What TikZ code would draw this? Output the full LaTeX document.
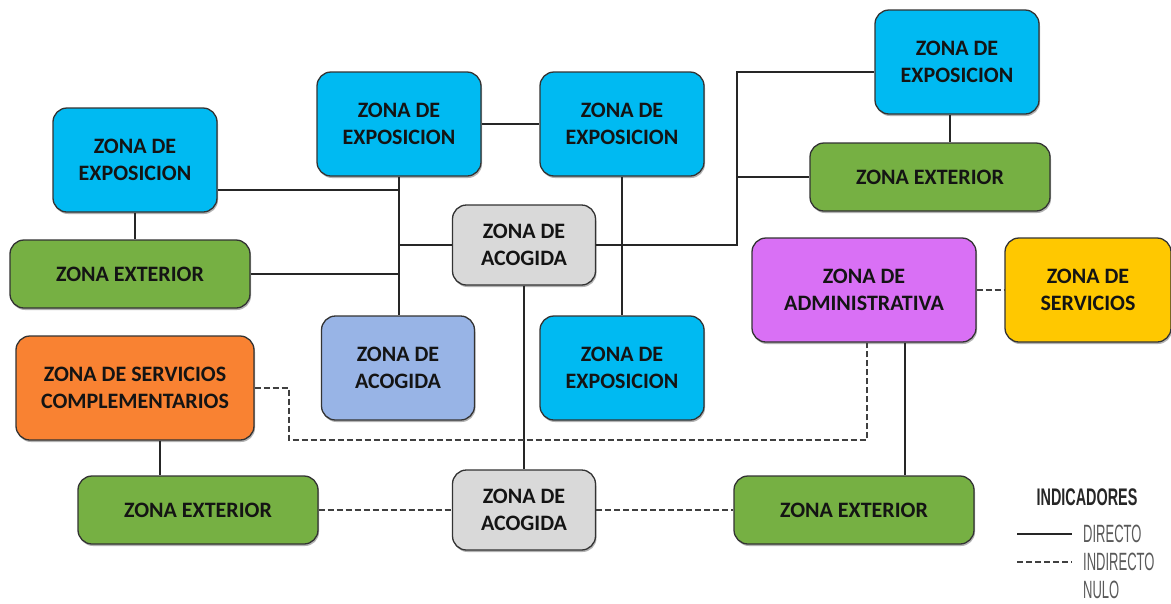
\documentclass[tikz,border=0pt]{standalone}
\usepackage{fontspec}
\usepackage{graphicx}
\setmainfont{Carlito}
\newfontfamily\legendfont{Liberation Sans}
\usetikzlibrary{shadows}

\definecolor{expoblue}{RGB}{0,186,242}
\definecolor{extgreen}{RGB}{118,176,67}
\definecolor{acoggrey}{RGB}{217,217,217}
\definecolor{acogblue}{RGB}{152,180,230}
\definecolor{adminpurple}{RGB}{217,112,245}
\definecolor{servyellow}{RGB}{255,200,0}
\definecolor{complorange}{RGB}{249,130,50}
\definecolor{boxtext}{RGB}{20,20,20}

\begin{document}
\begin{tikzpicture}[x=1pt,y=-1pt,
    zona/.style={draw=black!80,line width=1.3pt,rounded corners=14pt,
                 align=center,inner sep=0pt,text=boxtext,
                 font=\fontsize{22}{27}\selectfont\bfseries,
                 drop shadow={shadow xshift=1pt,shadow yshift=-2pt,
                              fill=black!60,opacity=0.5}},
    expo/.style={zona,fill=expoblue,minimum width=164pt,minimum height=104pt},
    ext/.style={zona,fill=extgreen,minimum width=240pt,minimum height=68pt},
    acog/.style={zona,fill=acoggrey,minimum width=143pt,minimum height=80pt},
    direct/.style={line width=2.2pt,draw=black!85},
    indirect/.style={line width=2.2pt,draw=black!75,dash pattern=on 6pt off 3pt},
    legtitle/.style={inner sep=0pt,text=black!85,
                     font=\legendfont\fontsize{24}{28}\selectfont\bfseries},
    legitem/.style={inner sep=0pt,anchor=west,text=black!65,
                    font=\legendfont\fontsize{25}{28}\selectfont}
  ]
    \useasboundingbox (0,0) rectangle (1171,603);

    % zonas
    \node[expo] (expoL) at (135,160) {ZONA DE\\EXPOSICION};
    \node[ext] (extL) at (130,274) {ZONA EXTERIOR};
    \node[expo] (expoA) at (399,124) {ZONA DE\\EXPOSICION};
    \node[expo] (expoB) at (622,124) {ZONA DE\\EXPOSICION};
    \node[expo] (expoR) at (957,62) {ZONA DE\\EXPOSICION};
    \node[ext] (extR) at (930,177) {ZONA EXTERIOR};
    \node[acog] (acogC) at (524,245) {ZONA DE\\ACOGIDA};
    \node[zona,fill=adminpurple,minimum width=224pt,minimum height=104pt]
      (admin) at (864,290) {ZONA DE\\ADMINISTRATIVA};
    \node[zona,fill=servyellow,minimum width=166pt,minimum height=104pt]
      (serv) at (1088,290) {ZONA DE\\SERVICIOS};
    \node[zona,fill=acogblue,minimum width=153pt,minimum height=104pt]
      (acogB) at (398,368) {ZONA DE\\ACOGIDA};
    \node[expo] (expoD) at (622,368) {ZONA DE\\EXPOSICION};
    \node[zona,fill=complorange,minimum width=238pt,minimum height=104pt]
      (compl) at (135,388) {ZONA DE SERVICIOS\\COMPLEMENTARIOS};
    \node[ext] (extBL) at (198,510) {ZONA EXTERIOR};
    \node[acog] (acogS) at (524,510) {ZONA DE\\ACOGIDA};
    \node[ext] (extBR) at (854,510) {ZONA EXTERIOR};

    % puntos de paso
    \coordinate (busL) at (400,245);
    \coordinate (busR) at (737,245);
    \coordinate (busRtop) at (737,72);
    \coordinate (busRmid) at (737,177);
    \coordinate (compA) at (289,388);
    \coordinate (compB) at (289,440);
    \coordinate (compC) at (867,440);

    % relaciones directas
    \draw[direct] (expoL.south) -- (expoL.south |- extL.north);
    \draw[direct] (expoA.south) -- (expoA.south |- acogB.north);
    \draw[direct] (expoL.east |- 0,190) -- (busL |- 0,190);
    \draw[direct] (extL.east) -- (extL.east -| busL);
    \draw[direct] (acogC.west) -- (busL);
    \draw[direct] (expoA) -- (expoB);
    \draw[direct] (expoB.south) -- (expoB.south |- expoD.north);
    \draw[direct] (acogC.east) -- (busR) -- (busRtop) -- (expoR.west |- busRtop);
    \draw[direct] (busRmid) -- (extR.west);
    \draw[direct] (expoR.south -| 950,0) -- (extR.north -| 950,0);
    \draw[direct] (acogC) -- (acogS);
    \draw[direct] (compl.south -| 160,0) -- (extBL.north -| 160,0);
    \draw[direct] (admin.south -| 905,0) -- (extBR.north -| 905,0);

    % relaciones indirectas
    \draw[indirect] (admin) -- (serv);
    \draw[indirect] (compl.east |- compA) -- (compA) -- (compB) -- (compC)
      -- (admin.south -| compC);
    \draw[indirect] (extBL) -- (acogS);
    \draw[indirect] (acogS) -- (extBR);

    % indicadores
    \node[legtitle] (legT) at (1087,497) {\scalebox{0.6}[1]{INDICADORES}};
    \node[legitem] (legD) at (1083,534) {\scalebox{0.52}[1]{DIRECTO}};
    \node[legitem] (legI) at (1083,562) {\scalebox{0.52}[1]{INDIRECTO}};
    \node[legitem] (legN) at (1083,590) {\scalebox{0.52}[1]{NULO}};
    \coordinate (legDs) at (1017,534);
    \coordinate (legIs) at (1017,562);
    \draw[direct,line width=2.6pt] (legDs) -- ([xshift=-11pt]legD.west);
    \draw[indirect,line width=2.6pt] (legIs) -- ([xshift=-11pt]legI.west);
  \end{tikzpicture}
\end{document}
